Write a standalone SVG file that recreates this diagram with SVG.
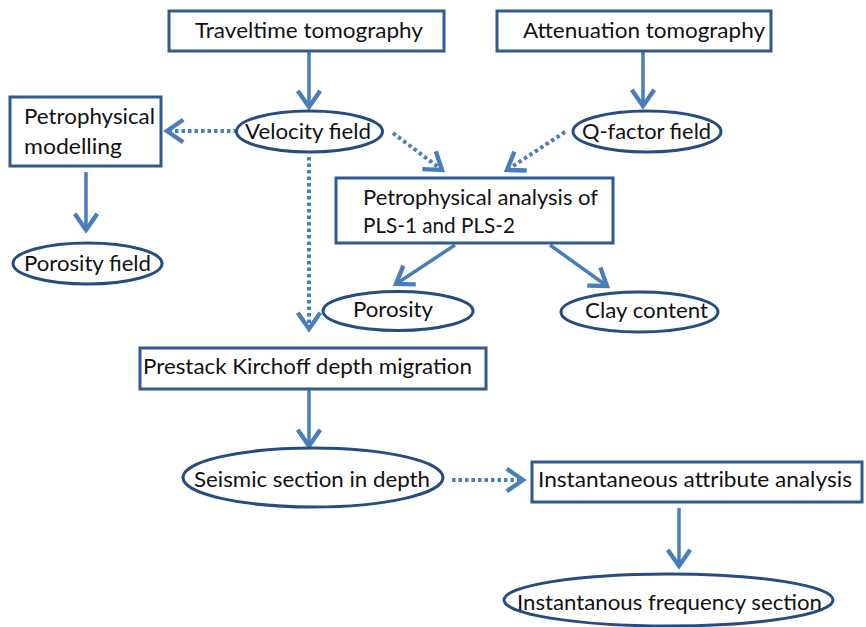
<svg xmlns="http://www.w3.org/2000/svg" width="866" height="627" viewBox="0 0 866 627">
<style>
.box{fill:#fff;stroke:#2f5b8f;stroke-width:3}
.ell{fill:#fff;stroke:#274d80;stroke-width:3}
text{font-family:Lato,"Open Sans","Liberation Sans",sans-serif;font-size:22px;fill:#111}
.solid{fill:none;stroke:#4a7ebb;stroke-width:3.5}
.dot{fill:none;stroke:#4a7ebb;stroke-width:4;stroke-dasharray:3.5 3}
</style>
<defs>
<marker id="head" markerUnits="userSpaceOnUse" markerWidth="30" markerHeight="30" viewBox="-16 -12 20 24" refX="0" refY="0" orient="auto">
<path d="M-13,-9 L0,0 L-13,9" fill="none" stroke="#4a7ebb" stroke-width="3.5" stroke-linejoin="miter"/>
</marker>
</defs>
<rect width="866" height="627" fill="#fff"/>
<g id="connectors">
<line class="solid" x1="309" y1="51" x2="309" y2="107" marker-end="url(#head)"/>
<line class="solid" x1="643" y1="51" x2="643" y2="106" marker-end="url(#head)"/>
<line class="solid" x1="86" y1="172" x2="86" y2="230" marker-end="url(#head)"/>
<line class="solid" x1="455" y1="245" x2="396" y2="284" marker-end="url(#head)"/>
<line class="solid" x1="550" y1="245" x2="607" y2="286" marker-end="url(#head)"/>
<line class="solid" x1="309" y1="389" x2="309" y2="446" marker-end="url(#head)"/>
<line class="solid" x1="679" y1="508" x2="679" y2="566" marker-end="url(#head)"/>
<line class="dot" x1="237" y1="131" x2="167" y2="131" marker-end="url(#head)"/>
<line class="dot" x1="393" y1="133" x2="442" y2="170" marker-end="url(#head)"/>
<line class="dot" x1="565" y1="132" x2="507" y2="170" marker-end="url(#head)"/>
<line class="dot" x1="309" y1="157" x2="309" y2="329" marker-end="url(#head)"/>
<line class="dot" x1="452" y1="480" x2="523" y2="480" marker-end="url(#head)"/>
</g>
<g id="traveltime">
<rect class="box" x="169" y="11" width="275" height="40"/>
<text x="195" y="38" textLength="228" lengthAdjust="spacingAndGlyphs">Traveltime tomography</text>
</g>
<g id="attenuation">
<rect class="box" x="497" y="11" width="274" height="40"/>
<text x="523" y="38" textLength="242" lengthAdjust="spacingAndGlyphs">Attenuation tomography</text>
</g>
<g id="velocity">
<ellipse class="ell" cx="309.5" cy="131.5" rx="73" ry="20.5"/>
<text x="245" y="139" textLength="126" lengthAdjust="spacingAndGlyphs">Velocity field</text>
</g>
<g id="qfactor">
<ellipse class="ell" cx="647" cy="131.5" rx="74" ry="20.5"/>
<text x="582" y="139" textLength="129" lengthAdjust="spacingAndGlyphs">Q-factor field</text>
</g>
<g id="petro-modelling">
<rect class="box" x="10" y="97" width="151" height="69"/>
<text x="24" y="124" textLength="131" lengthAdjust="spacingAndGlyphs">Petrophysical</text>
<text x="24" y="154" textLength="98" lengthAdjust="spacingAndGlyphs">modelling</text>
</g>
<g id="porosity-field">
<ellipse class="ell" cx="87.5" cy="263.5" rx="74.5" ry="20.5"/>
<text x="24" y="271" textLength="127" lengthAdjust="spacingAndGlyphs">Porosity field</text>
</g>
<g id="petro-analysis">
<rect class="box" x="336" y="178" width="277" height="65"/>
<text x="363" y="205" textLength="235" lengthAdjust="spacingAndGlyphs">Petrophysical analysis of</text>
<text x="363" y="233" textLength="152" lengthAdjust="spacingAndGlyphs">PLS-1 and PLS-2</text>
</g>
<g id="porosity">
<ellipse class="ell" cx="398" cy="311" rx="75" ry="19.5"/>
<text x="353" y="317" textLength="80" lengthAdjust="spacingAndGlyphs">Porosity</text>
</g>
<g id="clay">
<ellipse class="ell" cx="639.5" cy="312" rx="78.5" ry="20"/>
<text x="585" y="318" textLength="123" lengthAdjust="spacingAndGlyphs">Clay content</text>
</g>
<g id="prestack">
<rect class="box" x="140" y="348" width="346" height="41"/>
<text x="143" y="374" textLength="329" lengthAdjust="spacingAndGlyphs">Prestack Kirchoff depth migration</text>
</g>
<g id="seismic">
<ellipse class="ell" cx="313" cy="477.5" rx="130" ry="29.5"/>
<text x="194" y="487" textLength="236" lengthAdjust="spacingAndGlyphs">Seismic section in depth</text>
</g>
<g id="inst-attr">
<rect class="box" x="532" y="462" width="330" height="40"/>
<text x="538" y="487" textLength="314" lengthAdjust="spacingAndGlyphs">Instantaneous attribute analysis</text>
</g>
<g id="inst-freq">
<ellipse class="ell" cx="668.5" cy="600" rx="164.5" ry="26"/>
<text x="517" y="610" textLength="305" lengthAdjust="spacingAndGlyphs">Instantanous frequency section</text>
</g>
</svg>
